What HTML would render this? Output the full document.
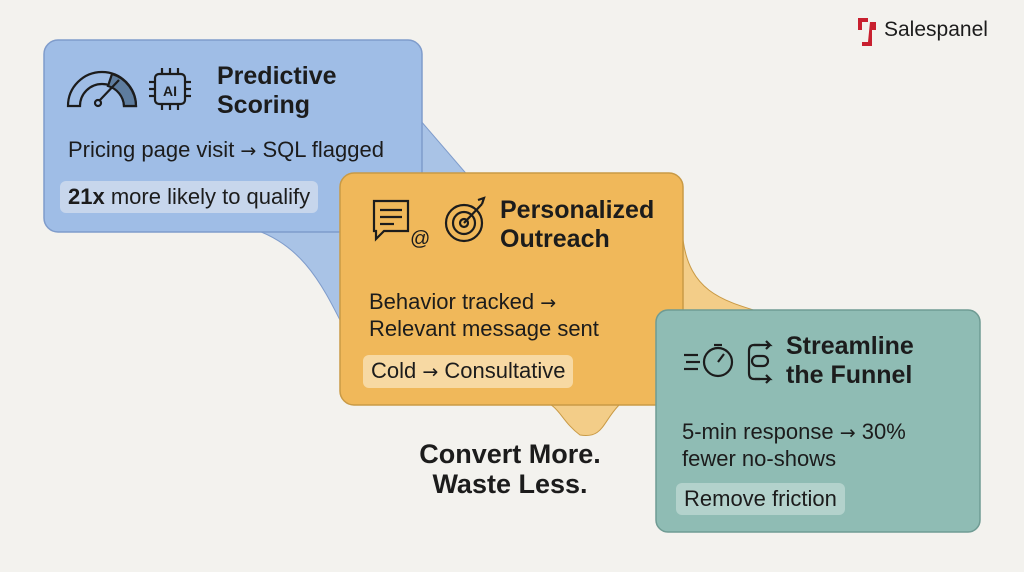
<!DOCTYPE html>
<html><head><meta charset="utf-8"><style>
html,body{margin:0;padding:0;background:#f3f2ee;}
body{width:1024px;height:572px;overflow:hidden;position:relative;font-family:"Liberation Sans",sans-serif;}
svg{position:absolute;left:0;top:0;}
.t{position:absolute;color:#1c1c1c;white-space:nowrap;}
.h{font-weight:bold;font-size:25px;line-height:29px;}
.b{font-size:22px;line-height:25px;}
.a{font-family:"DejaVu Sans",sans-serif;font-size:19px;}
.pill{position:absolute;border-radius:6px;font-size:22px;line-height:32px;padding:0 8px;color:#1c1c1c;white-space:nowrap;}
</style></head><body>
<svg width="1024" height="572">
 <path d="M240,225 C300,240 320,280 345,330 L360,220 C380,190 420,185 470,178 L420,120 C420,150 430,150 380,175 Z" fill="#a9c3e6" stroke="#7f9ccb" stroke-width="1"/>
 <rect x="44" y="40" width="378" height="192" rx="14" fill="#9fbde6" stroke="#7f9ccb" stroke-width="1.5"/>
 <path d="M683,240 C690,290 720,300 760,312 L660,330 L640,390 C600,410 610,440 580,435 C560,420 560,405 540,400 Z" fill="#f3cd88" stroke="#c99a45" stroke-width="1"/>
 <rect x="340" y="173" width="343" height="232" rx="14" fill="#f0b85a" stroke="#c99a45" stroke-width="1.5"/>
 <rect x="656" y="310" width="324" height="222" rx="12" fill="#8fbcb4" stroke="#6f9b93" stroke-width="1.5"/>
 <g fill="none" stroke="#1c1c1c" stroke-width="2.2">
  <path d="M68,106 A34,34 0 0 1 136,106 L124,106 A22,22 0 0 0 80,106 Z"/>
  <path d="M112,74 A34,34 0 0 1 136,106 L124,106 A22,22 0 0 0 108,86 Z" fill="#5e7d9f"/>
  <line x1="100" y1="100" x2="119" y2="80"/><circle cx="98" cy="103" r="3"/>
  <rect x="155" y="74" width="30" height="30" rx="4"/>
  <line x1="162" y1="68" x2="162" y2="74"/><line x1="170" y1="68" x2="170" y2="74"/><line x1="178" y1="68" x2="178" y2="74"/>
  <line x1="162" y1="104" x2="162" y2="110"/><line x1="170" y1="104" x2="170" y2="110"/><line x1="178" y1="104" x2="178" y2="110"/>
  <line x1="149" y1="82" x2="155" y2="82"/><line x1="149" y1="89" x2="155" y2="89"/><line x1="149" y1="96" x2="155" y2="96"/>
  <line x1="185" y1="82" x2="191" y2="82"/><line x1="185" y1="89" x2="191" y2="89"/><line x1="185" y1="96" x2="191" y2="96"/>
 </g>
 <text x="170" y="96" font-family="Liberation Sans" font-weight="bold" font-size="14" text-anchor="middle" fill="#1c1c1c">AI</text>
 <g fill="none" stroke="#1c1c1c" stroke-width="2.2">
  <path d="M374,201 h34 v30 h-24 l-8,8 v-8 h-2 z"/>
  <line x1="380" y1="210" x2="402" y2="210"/><line x1="380" y1="217" x2="402" y2="217"/><line x1="380" y1="224" x2="394" y2="224"/>
  <circle cx="464" cy="223" r="18"/><circle cx="464" cy="223" r="11"/><circle cx="464" cy="223" r="4"/>
  <line x1="464" y1="223" x2="482" y2="204"/><path d="M478,200 l6,-2 l-2,6"/>
 </g>
 <text x="410" y="245" font-family="Liberation Sans" font-size="20" fill="#1c1c1c">@</text>
 <g fill="none" stroke="#1c1c1c" stroke-width="2.2">
  <line x1="684" y1="355" x2="698" y2="355"/><line x1="686" y1="362" x2="700" y2="362"/><line x1="684" y1="369" x2="698" y2="369"/>
  <circle cx="718" cy="362" r="14"/><line x1="718" y1="362" x2="724" y2="354"/><line x1="714" y1="345" x2="722" y2="345"/>
  <path d="M760,345 h-6 q-5,0 -5,6 v22 q0,6 5,6 h6"/><path d="M754,345 h16 l-4,-4 M770,345 l-4,4"/><path d="M755,379 h15 l-4,-4 M770,379 l-4,4"/>
  <rect x="752" y="356" width="16" height="10" rx="5"/>
 </g>
 <path d="M858,18 h10 v4 h-6 v8 h-4 z M870,22 h6 v8 h-4 v16 h-10 v-4 h6 z" fill="#c8202f"/>
</svg>
<div class="t" style="left:884px;top:18px;font-size:21px;">Salespanel</div>
<div class="t h" style="left:217px;top:62px;">Predictive<br>Scoring</div>
<div class="t b" style="left:68px;top:137px;">Pricing page visit <span class="a">→</span> SQL flagged</div>
<div class="pill" style="left:60px;top:181px;background:#c7d6ec;"><b>21x</b> more likely to qualify</div>
<div class="t h" style="left:500px;top:196px;">Personalized<br>Outreach</div>
<div class="t b" style="left:369px;top:289px;">Behavior tracked <span class="a">→</span><br>Relevant message sent</div>
<div class="pill" style="left:363px;top:355px;background:#f7d9a3;">Cold <span class="a">→</span> Consultative</div>
<div class="t h" style="left:786px;top:332px;">Streamline<br>the Funnel</div>
<div class="t b" style="left:682px;top:419px;">5-min response <span class="a">→</span> 30%<br>fewer no-shows</div>
<div class="pill" style="left:676px;top:483px;background:#b3d2cc;">Remove friction</div>
<div class="t" style="left:390px;top:439px;width:240px;text-align:center;font-weight:bold;font-size:27px;line-height:30px;">Convert More.<br>Waste Less.</div>
</body></html>
